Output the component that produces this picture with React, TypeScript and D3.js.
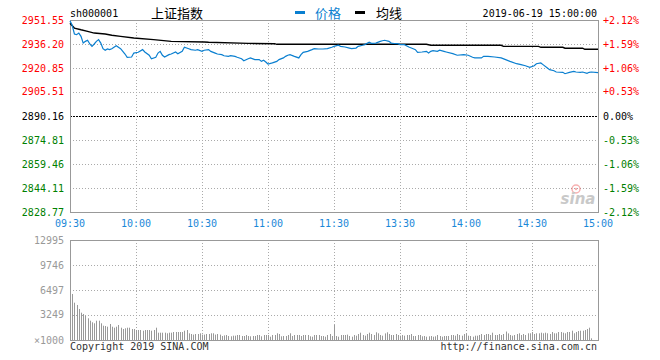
import React from "react";
import * as d3 from "d3";

const timeLabels = ["09:30", "10:00", "10:30", "11:00", "11:30", "13:30", "14:00", "14:30", "15:00"];
const priceTicks = [2951.55, 2936.2, 2920.85, 2905.51, 2890.16, 2874.81, 2859.46, 2844.11, 2828.77];
const pctTicks = ["+2.12%", "+1.59%", "+1.06%", "+0.53%", "0.00%", "-0.53%", "-1.06%", "-1.59%", "-2.12%"];
const volTicks = [12995, 9746, 6497, 3249];
const preClose = 2890.16;

const priceIdx = [0,1,2,3,4,5,6,7,8,9,10,11,12,13,14,15,16,17,18,19,21,23,24,25,26,28,29,31,33,34,36,37,39,40,41,42,43,45,46,48,49,51,52,54,55,57,58,60,61,63,64,66,67,69,70,72,73,75,76,78,79,81,82,84,86,87,88,89,90,92,94,95,97,98,99,100,102,104,105,106,108,110,111,113,115,117,119,120,122,123,125,127,128,130,131,133,134,136,137,139,141,142,143,145,146,147,149,150,152,154,156,157,158,160,162,163,164,165,167,168,170,171,174,176,179,181,183,184,187,188,190,193,196,198,200,203,205,207,209,211,212,214,215,217,218,220,221,224,225,227,229,230,232,233,235,236,237,240];
const priceVal = [2951.0,2948.2,2942.6,2942.2,2943.2,2941.1,2936.8,2937.9,2938.6,2936.2,2934.7,2936.2,2937.9,2939.0,2936.8,2933.2,2932.2,2933.0,2932.6,2933.2,2935.1,2933.2,2931.5,2929.8,2927.7,2927.9,2930.4,2930.9,2932.6,2931.1,2929.0,2926.8,2927.7,2930.4,2931.5,2929.0,2927.9,2929.4,2929.8,2931.1,2930.0,2931.5,2934.1,2933.2,2932.6,2932.2,2932.6,2931.5,2932.2,2932.6,2931.5,2930.4,2929.8,2929.4,2928.7,2928.3,2928.7,2928.3,2927.7,2926.8,2925.5,2926.8,2927.3,2926.2,2926.2,2925.1,2925.8,2924.7,2923.4,2924.1,2925.1,2926.2,2927.3,2928.3,2929.0,2929.4,2928.3,2927.3,2929.4,2930.9,2931.5,2932.6,2933.2,2933.0,2933.0,2933.2,2934.1,2934.7,2935.4,2934.7,2934.3,2933.6,2933.2,2933.6,2934.7,2935.4,2935.8,2937.3,2936.6,2936.8,2937.9,2938.3,2938.6,2937.9,2936.8,2936.6,2936.4,2935.8,2935.8,2934.3,2933.2,2932.6,2930.9,2931.1,2931.5,2930.4,2931.5,2931.9,2931.5,2932.2,2931.5,2931.1,2930.0,2929.0,2929.4,2929.0,2927.7,2927.3,2927.3,2928.3,2928.3,2927.9,2927.3,2926.2,2925.1,2923.6,2923.0,2922.3,2921.3,2922.3,2923.6,2924.1,2923.0,2920.85,2919.8,2919.1,2918.3,2918.1,2917.2,2918.1,2918.7,2918.3,2918.1,2918.3,2917.5,2918.1,2918.3,2917.9];

const avgIdx = [0,2,5,8,11,16,19,23,29,38,46,61,63,81,93,94,162,164,196,197,213,214,224,225,233,234,240];
const avgVal = [2949.5,2946.4,2945.3,2944.3,2943.2,2942.6,2941.8,2941.1,2940.0,2939.0,2937.9,2937.5,2937.3,2936.6,2936.4,2936.0,2936.0,2935.4,2935.4,2934.7,2934.7,2934.1,2934.1,2933.5,2933.5,2932.8,2932.8];

const volumes = [
  12995,
  5980, 4850, 4550, 4030, 3550, 3380, 3120, 2820, 2510, 2300,
  2170, 2510, 2510, 2170, 1860, 1820, 1730, 2080, 1730, 1600,
  1730, 1950, 1600, 1430, 1520, 1600, 1600, 1430, 1430, 1300,
  1300, 1300, 1210, 1300, 1300, 1300, 1210, 1300, 1600, 950,
  950, 950, 950, 870, 950, 950, 1040, 1040, 1040, 1040,
  1040, 1210, 1300, 870, 780, 700, 780, 780, 870, 700,
  700, 780, 780, 870, 870, 700, 780, 700, 520, 600,
  650, 520, 480, 560, 560, 650, 650, 520, 520, 650,
  520, 480, 520, 520, 650, 650, 480, 650, 650, 650,
  430, 650, 650, 870, 780, 480, 520, 520, 650, 870,
  520, 650, 650, 650, 520, 650, 650, 650, 480, 430,
  650, 650, 650, 520, 520, 430, 650, 780, 520, 1950,
  520, 430, 650, 650, 650, 700, 520, 430, 650, 560,
  780, 950, 650, 560, 780, 950, 780, 650, 1000, 870,
  650, 560, 860, 1000, 780, 650, 650, 780, 650, 560,
  650, 560, 650, 650, 780, 520, 520, 650, 650, 480,
  520, 430, 480, 520, 430, 480, 650, 520, 430, 520,
  520, 520, 650, 650, 560, 780, 650, 560, 780, 860,
  560, 520, 430, 560, 560, 650, 780, 650, 780, 780,
  650, 950, 650, 650, 780, 650, 780, 1100, 860, 650,
  560, 650, 780, 870, 650, 780, 650, 870, 870, 1040,
  780, 870, 870, 950, 870, 950, 870, 780, 1040, 870,
  870, 1040, 1040, 950, 870, 1040, 1040, 1210, 870, 1040,
  1170, 1210, 1210, 1300, 1430, 1600, 220, 0, 0, 0,
];

const L = 70, R = 598, T = 20, B = 212, VT = 240, VB = 340;
const mono = "'DejaVu Sans Mono', monospace";
const cjk = "'Noto Sans CJK SC', sans-serif";
const gridGray = "#aaa";
const frameGray = "#999";
const blue = "#0a7fd0";
const red = "#f00";
const green = "#008000";

export default function App() {
  const x = d3.scaleLinear().domain([0, 240]).range([L, R]);
  const y = d3.scaleLinear().domain([2828.77, 2951.55]).range([B, T]);
  const yv = d3.scaleLinear().domain([0, 12995]).range([VB, VT]);

  const priceLine = d3.line<number>().x((_, i) => x(priceIdx[i])).y((d) => y(d));
  const avgLine = d3.line<number>().x((_, i) => x(avgIdx[i])).y((d) => y(d));

  const colorFor = (v: number) => (Math.abs(v - preClose) < 0.01 ? "#000" : v > preClose ? red : green);
  const vGridIdx = d3.range(30, 240, 30);

  return (
    <svg width={660} height={360} style={{ position: "absolute", left: 0, top: 0, background: "#fff" }}>
      {/* header */}
      <text x={70} y={17} fontFamily={mono} fontSize={10} fill="#000">sh000001</text>
      <text x={177} y={17.5} fontFamily={cjk} fontSize={13} fill="#000" textAnchor="middle">上证指数</text>
      <rect x={295} y={11} width={10} height={3} fill={blue} />
      <text x={315} y={17.5} fontFamily={cjk} fontSize={13} fill={blue}>价格</text>
      <rect x={355} y={11} width={10} height={3} fill="#000" />
      <text x={376} y={17.5} fontFamily={cjk} fontSize={13} fill="#000">均线</text>
      <text x={597} y={17} fontFamily={mono} fontSize={10} fill="#000" textAnchor="end">2019-06-19 15:00:00</text>

      {/* price grid */}
      {priceTicks.slice(1, -1).map((p) =>
        Math.abs(p - preClose) < 0.01 ? (
          <line key={p} x1={L} x2={R} y1={Math.round(y(p)) + 0.5} y2={Math.round(y(p)) + 0.5} stroke="#000" strokeDasharray="2,1" />
        ) : (
          <line key={p} x1={L} x2={R} y1={Math.round(y(p)) + 0.5} y2={Math.round(y(p)) + 0.5} stroke={gridGray} strokeDasharray="1,2" />
        )
      )}
      {vGridIdx.map((i) => (
        <line key={"vg" + i} x1={Math.round(x(i)) + 0.5} x2={Math.round(x(i)) + 0.5} y1={T} y2={B} stroke={gridGray} strokeDasharray="1,2" />
      ))}
      <rect x={L + 0.5} y={T + 0.5} width={R - L} height={B - T} fill="none" stroke={frameGray} />

      {/* sina watermark */}
      <g opacity={0.45}>
        <circle cx={576} cy={189} r={4} fill="none" stroke="#e55" strokeWidth={1.5} />
        <circle cx={576} cy={189} r={1.2} fill="#e55" />
        <text x={578} y={204} fontFamily="'DejaVu Sans', sans-serif" fontSize={15} fontStyle="italic" fontWeight="bold" fill="#888" textAnchor="middle">sina</text>
      </g>

      {/* lines */}
      <path d={avgLine(avgVal) || ""} fill="none" stroke="#000" strokeWidth={1.4} />
      <path d={priceLine(priceVal) || ""} fill="none" stroke={blue} strokeWidth={1.2} />

      {/* left price labels */}
      {priceTicks.map((p) => (
        <text key={"l" + p} x={64} y={y(p) + 3.5} fontFamily={mono} fontSize={10} fill={colorFor(p)} textAnchor="end">
          {p.toFixed(2)}
        </text>
      ))}
      {/* right pct labels */}
      {priceTicks.map((p, i) => (
        <text key={"r" + p} x={603} y={y(p) + 3.5} fontFamily={mono} fontSize={10} fill={colorFor(p)}>
          {pctTicks[i]}
        </text>
      ))}
      {/* time labels */}
      {timeLabels.map((t, i) => (
        <text key={t} x={x(i * 30)} y={227} fontFamily={mono} fontSize={10} fill="#1a88d8" textAnchor="middle">
          {t}
        </text>
      ))}

      {/* volume panel */}
      {volTicks.slice(1).map((v) => (
        <line key={"vv" + v} x1={L} x2={R} y1={Math.round(yv(v)) + 0.5} y2={Math.round(yv(v)) + 0.5} stroke={gridGray} strokeDasharray="1,2" />
      ))}
      {vGridIdx.map((i) => (
        <line key={"vv2" + i} x1={Math.round(x(i)) + 0.5} x2={Math.round(x(i)) + 0.5} y1={VT} y2={VB} stroke={gridGray} strokeDasharray="1,2" />
      ))}
      {volumes.map((v, i) =>
        v > 0 ? (
          <rect key={"b" + i} x={Math.round(x(i))} y={yv(v)} width={1} height={VB - yv(v)} fill="#999" />
        ) : null
      )}
      <rect x={L + 0.5} y={VT + 0.5} width={R - L} height={VB - VT} fill="none" stroke={frameGray} />
      {volTicks.map((v) => (
        <text key={"vl" + v} x={64} y={yv(v) + 3.5} fontFamily={mono} fontSize={10} fill="#999" textAnchor="end">
          {v}
        </text>
      ))}
      <text x={64} y={VB + 3.5} fontFamily={mono} fontSize={10} fill="#999" textAnchor="end">×1000</text>
      <text x={70} y={350} fontFamily={mono} fontSize={10} fill="#333">Copyright 2019 SINA.COM</text>
      <text x={597} y={350} fontFamily={mono} fontSize={10} fill="#333" textAnchor="end">http://finance.sina.com.cn</text>
    </svg>
  );
}
